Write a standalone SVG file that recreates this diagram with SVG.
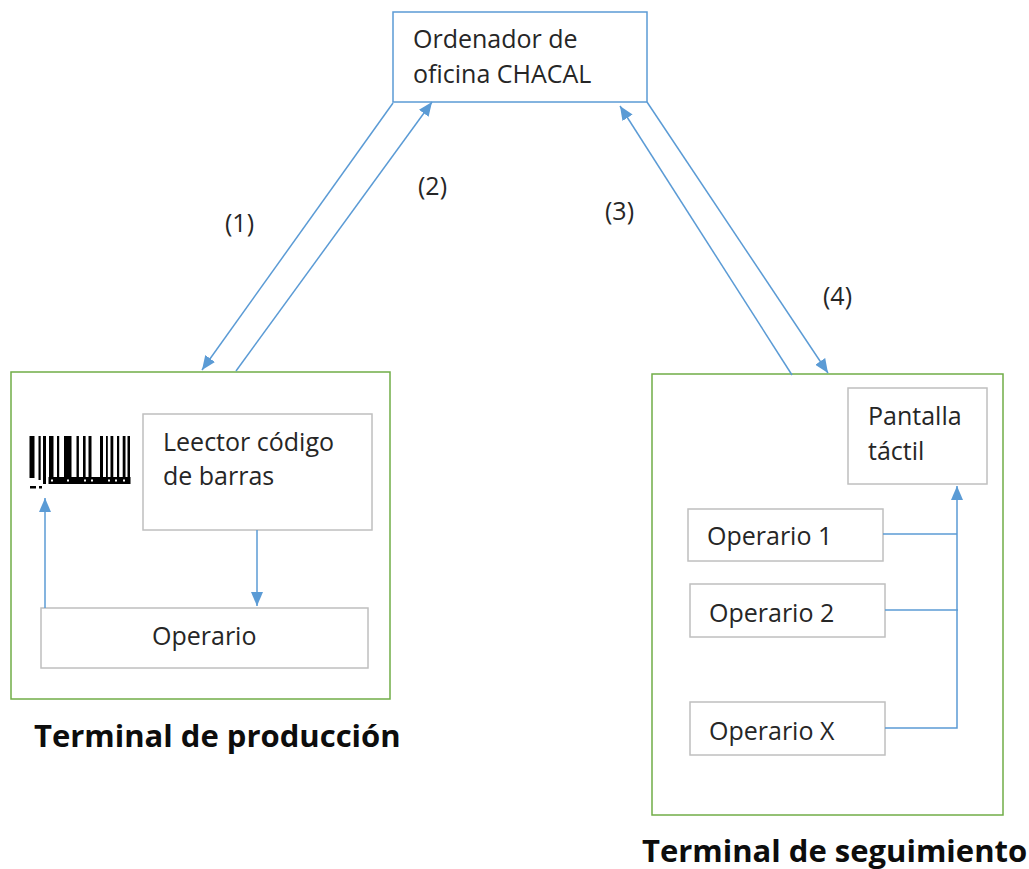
<svg xmlns="http://www.w3.org/2000/svg" width="1029" height="869" viewBox="0 0 1029 869">
<style>
.bg{fill:#ffffff}
.frame{fill:none;stroke:#70AD47;stroke-width:1.5}
.top{fill:#ffffff;stroke:#5B9BD5;stroke-width:1.5}
.box{fill:#ffffff;stroke:#BFBFBF;stroke-width:1.5}
.lbl{font-family:"Open Sans","Noto Sans","DejaVu Sans",sans-serif;font-size:25px;fill:#262626}
.title{font-family:"Open Sans","Noto Sans","DejaVu Sans",sans-serif;font-size:31px;font-weight:bold;fill:#0d0d0d}
.conn{fill:none;stroke:#5B9BD5;stroke-width:1.5}
.bar{fill:#000000}
</style>
<defs>
<marker id="ah" viewBox="0 0 14 12" refX="14" refY="6" markerWidth="14" markerHeight="12" markerUnits="userSpaceOnUse" orient="auto">
<path d="M0,0 L14,6 L0,12 z" fill="#5B9BD5"/>
</marker>
</defs>
<rect class="bg" x="0" y="0" width="1029" height="869"/>

<g id="terminal-produccion">
<rect class="frame" x="11" y="372" width="379" height="327"/>
<text class="title" x="34" y="747">Terminal de producción</text>
</g>

<g id="terminal-seguimiento">
<rect class="frame" x="652" y="374" width="351" height="441"/>
<text class="title" x="642" y="862">Terminal de seguimiento</text>
</g>

<g id="ordenador">
<rect class="top" x="393" y="12" width="254" height="90"/>
<text class="lbl" x="413" y="48">Ordenador de</text>
<text class="lbl" x="413" y="83">oficina CHACAL</text>
</g>

<g id="lector">
<rect class="box" x="143" y="414" width="229" height="116"/>
<text class="lbl" x="163" y="451">Leector código</text>
<text class="lbl" x="163" y="485">de barras</text>
</g>

<g id="barcode">
<rect class="bar" x="29.5" y="436" width="5" height="42"/>
<rect class="bar" x="38.5" y="436" width="2.2" height="44"/>
<rect class="bar" x="43" y="436" width="3" height="48"/>
<rect class="bar" x="49" y="436" width="4.5" height="44"/>
<rect class="bar" x="57" y="436" width="2.2" height="44"/>
<rect class="bar" x="64" y="436" width="7.5" height="44"/>
<rect class="bar" x="76.5" y="436" width="2.4" height="44"/>
<rect class="bar" x="83" y="436" width="2.6" height="44"/>
<rect class="bar" x="88.5" y="436" width="3" height="44"/>
<rect class="bar" x="100" y="436" width="3" height="44"/>
<rect class="bar" x="106" y="436" width="1.8" height="44"/>
<rect class="bar" x="110.5" y="436" width="2.8" height="44"/>
<rect class="bar" x="117" y="436" width="2.2" height="44"/>
<rect class="bar" x="122.7" y="436" width="2.8" height="44"/>
<rect class="bar" x="127.5" y="436" width="2.5" height="44"/>
<rect class="bar" x="48.5" y="477" width="82" height="7"/>
<rect class="bar" x="30" y="486" width="6" height="2.5"/>
<rect class="bar" x="39" y="486" width="3" height="2.5"/>
<g fill="#ffffff">
<rect x="51" y="479.5" width="2" height="2"/>
<rect x="67" y="479.5" width="2" height="2"/>
<rect x="84" y="479.5" width="2" height="2"/>
<rect x="91" y="479.5" width="2" height="2"/>
<rect x="108" y="479.5" width="2" height="2"/>
<rect x="115" y="479.5" width="2" height="2"/>
<rect x="123" y="479.5" width="2" height="2"/>
</g>
</g>

<g id="operario">
<rect class="box" x="41" y="608" width="327" height="60"/>
<text class="lbl" x="152" y="645">Operario</text>
</g>

<g id="pantalla">
<rect class="box" x="848" y="388" width="139" height="96"/>
<text class="lbl" x="868" y="425">Pantalla</text>
<text class="lbl" x="868" y="460">táctil</text>
</g>

<g id="operario-1">
<rect class="box" x="688" y="509" width="195" height="52"/>
<text class="lbl" x="707" y="545">Operario 1</text>
</g>

<g id="operario-2">
<rect class="box" x="690" y="584" width="195" height="53"/>
<text class="lbl" x="709" y="622">Operario 2</text>
</g>

<g id="operario-x">
<rect class="box" x="690" y="702" width="195" height="53"/>
<text class="lbl" x="709" y="740">Operario X</text>
</g>

<g id="labels">
<text class="lbl" x="225" y="232">(1)</text>
<text class="lbl" x="418" y="195">(2)</text>
<text class="lbl" x="605" y="220">(3)</text>
<text class="lbl" x="823" y="305">(4)</text>
</g>

<g id="connectors">
<line class="conn" x1="393" y1="103" x2="202" y2="370" marker-end="url(#ah)"/>
<line class="conn" x1="236" y1="371" x2="432" y2="102" marker-end="url(#ah)"/>
<line class="conn" x1="792" y1="375" x2="620" y2="106" marker-end="url(#ah)"/>
<line class="conn" x1="647" y1="102" x2="828" y2="373" marker-end="url(#ah)"/>
<line class="conn" x1="257" y1="530" x2="257" y2="606" marker-end="url(#ah)"/>
<line class="conn" x1="45" y1="608" x2="45" y2="498" marker-end="url(#ah)"/>
<line class="conn" x1="883" y1="534" x2="957" y2="534"/>
<line class="conn" x1="885" y1="610" x2="958" y2="610"/>
<path class="conn" d="M885,728 H957 V486" marker-end="url(#ah)"/>
</g>
</svg>
